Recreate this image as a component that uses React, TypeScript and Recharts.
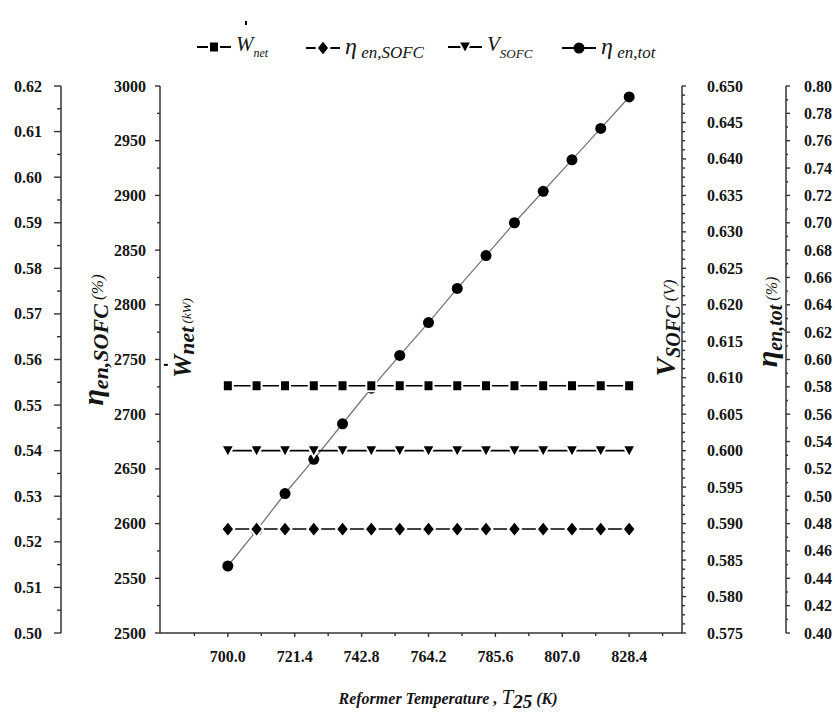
import React from "react";
import { LineChart, Line, XAxis, YAxis } from "recharts";

// reformer temperature T25 (K), 15 operating points
const temps = [700.0, 709.2, 718.3, 727.5, 736.7, 745.9, 755.0, 764.2, 773.4, 782.6, 791.7, 800.9, 810.1, 819.3, 828.4];
const wNet = [2726, 2726, 2726, 2726, 2726, 2726, 2726, 2726, 2726, 2726, 2726, 2726, 2726, 2726, 2726];
const etaSofc = [0.5228, 0.5228, 0.5228, 0.5228, 0.5228, 0.5228, 0.5228, 0.5228, 0.5228, 0.5228, 0.5228, 0.5228, 0.5228, 0.5228, 0.5228];
const vSofc = [0.6, 0.6, 0.6, 0.6, 0.6, 0.6, 0.6, 0.6, 0.6, 0.6, 0.6, 0.6, 0.6, 0.6, 0.6];
const etaTot = [0.449, 0.475, 0.502, 0.527, 0.553, 0.579, 0.603, 0.627, 0.652, 0.676, 0.7, 0.723, 0.746, 0.769, 0.792];

// tick labels
const xTicks = [700.0, 721.4, 742.8, 764.2, 785.6, 807.0, 828.4];
const sofcTicks = [0.5, 0.51, 0.52, 0.53, 0.54, 0.55, 0.56, 0.57, 0.58, 0.59, 0.6, 0.61, 0.62];
const wNetTicks = [2500, 2550, 2600, 2650, 2700, 2750, 2800, 2850, 2900, 2950, 3000];
const vTicks = [0.575, 0.58, 0.585, 0.59, 0.595, 0.6, 0.605, 0.61, 0.615, 0.62, 0.625, 0.63, 0.635, 0.64, 0.645, 0.65];
const totTicks = [0.4, 0.42, 0.44, 0.46, 0.48, 0.5, 0.52, 0.54, 0.56, 0.58, 0.6, 0.62, 0.64, 0.66, 0.68, 0.7, 0.72, 0.74, 0.76, 0.78, 0.8];

const data = temps.map((t, i) => ({
  t,
  wnet: wNet[i],
  sofc: etaSofc[i],
  v: vSofc[i],
  tot: etaTot[i],
}));

const SERIF = "'Liberation Serif', 'Times New Roman', serif";
const INK = "#151515";
const AXIS = "#333";

// axis ids: recharts stacks same-side axes by id, first id next to the plot
const ID_WNET = "L1";
const ID_SOFC = "L2";
const ID_V = "R1";
const ID_TOT = "R2";

// majors plus `n` evenly spaced minor ticks between each pair
function withMinors(majors: number[], n: number, extraEnds = false) {
  const out: number[] = [];
  const step = majors[1] - majors[0];
  if (extraEnds) for (let k = 1; k <= n; k++) out.push(majors[0] - (step * k) / (n + 1));
  majors.forEach((m, i) => {
    out.push(m);
    const next = i < majors.length - 1 ? majors[i + 1] : extraEnds ? m + step : null;
    if (next == null) return;
    for (let k = 1; k <= n; k++) out.push(m + ((next - m) * k) / (n + 1));
  });
  return out;
}

type TickSpec = {
  side: "left" | "right" | "bottom";
  majors: number[];
  digits: number;
  majorLen: number;
  minorLen: number;
  gap: number;
};

function makeTick(spec: TickSpec) {
  return (props: any) => {
    const { x, y, payload } = props;
    const v = payload.value;
    const isMajor = spec.majors.some((m) => Math.abs(m - v) < 1e-6);
    const len = isMajor ? spec.majorLen : spec.minorLen;
    const label = v.toFixed(spec.digits);
    const txt = { fontFamily: SERIF, fontWeight: 700, fontSize: 16, fill: INK } as const;
    if (spec.side === "left") {
      return (
        <g>
          <line x1={x} x2={x - len} y1={y} y2={y} stroke={AXIS} strokeWidth={1.4} />
          {isMajor && (
            <text x={x - spec.majorLen - spec.gap} y={y + 5.5} textAnchor="end" {...txt}>
              {label}
            </text>
          )}
        </g>
      );
    }
    if (spec.side === "right") {
      return (
        <g>
          <line x1={x} x2={x + len} y1={y} y2={y} stroke={AXIS} strokeWidth={1.4} />
          {isMajor && (
            <text x={x + spec.majorLen + spec.gap} y={y + 5.5} textAnchor="start" {...txt}>
              {label}
            </text>
          )}
        </g>
      );
    }
    return (
      <g>
        <line x1={x} x2={x} y1={y} y2={y + len} stroke={AXIS} strokeWidth={1.4} />
        {isMajor && (
          <text x={x} y={y + 29} textAnchor="middle" {...txt}>
            {label}
          </text>
        )}
      </g>
    );
  };
}

const SquareDot = (p: any) => (
  <rect x={p.cx - 5} y={p.cy - 5.5} width={10} height={11} fill="#000" stroke="#fff" strokeWidth={2} />
);
const DiamondDot = (p: any) => (
  <path
    d={`M${p.cx},${p.cy - 8} L${p.cx + 6.5},${p.cy} L${p.cx},${p.cy + 8} L${p.cx - 6.5},${p.cy} Z`}
    fill="#000"
    stroke="#fff"
    strokeWidth={2}
  />
);
const TriangleDot = (p: any) => (
  <path
    d={`M${p.cx - 6.5},${p.cy - 5.5} L${p.cx + 6.5},${p.cy - 5.5} L${p.cx},${p.cy + 6.5} Z`}
    fill="#000"
    stroke="#fff"
    strokeWidth={2}
  />
);
const CircleDot = (p: any) => <circle cx={p.cx} cy={p.cy} r={5.5} fill="#000" />;

function LegendMark({ kind }: { kind: string }) {
  const c = { cx: 18, cy: 9 };
  return (
    <svg width={36} height={18} style={{ display: "block" }}>
      <line x1={1} x2={35} y1={9} y2={9} stroke="#000" strokeWidth={1.8} />
      {kind === "sq" && <SquareDot {...c} />}
      {kind === "dia" && <DiamondDot {...c} />}
      {kind === "tri" && <TriangleDot {...c} />}
      {kind === "tot" && <CircleDot {...c} />}
    </svg>
  );
}

function LegendItem({ left, kind, children }: { left: number; kind: string; children: React.ReactNode }) {
  return (
    <div style={{ position: "absolute", left, top: 34, display: "flex", alignItems: "center", gap: 4 }}>
      <LegendMark kind={kind} />
      <div style={{ fontFamily: SERIF, fontStyle: "italic", color: INK, whiteSpace: "nowrap", lineHeight: 1 }}>
        {children}
      </div>
    </div>
  );
}

function VTitle({ cx, cy, children }: { cx: number; cy: number; children: React.ReactNode }) {
  return (
    <div
      style={{
        position: "absolute",
        left: cx,
        top: cy,
        transform: "translate(-50%,-50%) rotate(-90deg)",
        whiteSpace: "nowrap",
        fontFamily: SERIF,
        fontStyle: "italic",
        fontWeight: 700,
        color: INK,
        lineHeight: 1,
      }}
    >
      {children}
    </div>
  );
}

const sub = (size: number, shift = "-0.25em"): React.CSSProperties => ({ fontSize: size, verticalAlign: shift });

// W with the time-derivative dot above it
function DotW({ size, lift }: { size: number; lift: number }) {
  return (
    <span style={{ position: "relative", fontSize: size }}>
      W
      <span
        style={{
          position: "absolute",
          left: "50%",
          top: -lift,
          width: 2.5,
          height: 3.5,
          background: "#000",
        }}
      />
    </span>
  );
}

export default function App() {
  return (
    <div style={{ position: "absolute", left: 0, top: 0, width: 835, height: 714, background: "#fff" }}>
      <LineChart width={835} height={714} data={data} margin={{ top: 86, right: 0, bottom: 41, left: 0 }}>
        <XAxis
          dataKey="t"
          type="number"
          domain={[678.3, 845.3]}
          ticks={withMinors(xTicks, 1, true)}
          interval={0}
          height={40}
          tickSize={0}
          tickMargin={0}
          tickLine={false}
          axisLine={{ stroke: AXIS, strokeWidth: 1.5 }}
          tick={makeTick({ side: "bottom", majors: xTicks, digits: 1, majorLen: 4, minorLen: 3, gap: 0 })}
        />
        <YAxis
          yAxisId={ID_WNET}
          orientation="left"
          width={99}
          domain={[2500, 3000]}
          ticks={withMinors(wNetTicks, 1)}
          interval={0}
          tickSize={0}
          tickMargin={0}
          tickLine={false}
          axisLine={{ stroke: AXIS, strokeWidth: 1.5 }}
          tick={makeTick({ side: "left", majors: wNetTicks, digits: 0, majorLen: 5, minorLen: 3, gap: 9 })}
        />
        <YAxis
          yAxisId={ID_SOFC}
          orientation="left"
          width={61}
          domain={[0.5, 0.62]}
          ticks={withMinors(sofcTicks, 1)}
          interval={0}
          tickSize={0}
          tickMargin={0}
          tickLine={false}
          axisLine={{ stroke: AXIS, strokeWidth: 1.5 }}
          tick={makeTick({ side: "left", majors: sofcTicks, digits: 2, majorLen: 7, minorLen: 4, gap: 12 })}
        />
        <YAxis
          yAxisId={ID_V}
          orientation="right"
          width={104}
          domain={[0.575, 0.65]}
          ticks={withMinors(vTicks, 3)}
          interval={0}
          tickSize={0}
          tickMargin={0}
          tickLine={false}
          axisLine={{ stroke: AXIS, strokeWidth: 1.5 }}
          tick={makeTick({ side: "right", majors: vTicks, digits: 3, majorLen: 4, minorLen: 3, gap: 21 })}
        />
        <YAxis
          yAxisId={ID_TOT}
          orientation="right"
          width={49}
          domain={[0.4, 0.8]}
          ticks={withMinors(totTicks, 1)}
          interval={0}
          tickSize={0}
          tickMargin={0}
          tickLine={false}
          axisLine={{ stroke: AXIS, strokeWidth: 1.5 }}
          tick={makeTick({ side: "right", majors: totTicks, digits: 2, majorLen: 4, minorLen: 2, gap: 14 })}
        />
        <Line yAxisId={ID_TOT} dataKey="tot" stroke="#777" strokeWidth={1.3} dot={<CircleDot />} isAnimationActive={false} />
        <Line yAxisId={ID_WNET} dataKey="wnet" stroke="#000" strokeWidth={1.6} dot={<SquareDot />} isAnimationActive={false} />
        <Line yAxisId={ID_V} dataKey="v" stroke="#000" strokeWidth={1.6} dot={<TriangleDot />} isAnimationActive={false} />
        <Line yAxisId={ID_SOFC} dataKey="sofc" stroke="#000" strokeWidth={1.6} dot={<DiamondDot />} isAnimationActive={false} />
      </LineChart>

      {/* legend */}
      <LegendItem left={196} kind="sq">
        <DotW size={21} lift={11} />
        <span style={sub(12, "-0.5em")}>net</span>
      </LegendItem>
      <LegendItem left={305} kind="dia">
        <span style={{ fontSize: 24 }}>η</span>
        <span style={sub(17)}> en,SOFC</span>
      </LegendItem>
      <LegendItem left={447} kind="tri">
        <span style={{ fontSize: 21 }}>V</span>
        <span style={sub(13, "-0.5em")}>SOFC</span>
      </LegendItem>
      <LegendItem left={561} kind="tot">
        <span style={{ fontSize: 24 }}>η</span>
        <span style={sub(17)}> en,tot</span>
      </LegendItem>

      {/* axis titles */}
      <VTitle cx={95} cy={340}>
        <span style={{ fontSize: 30 }}>η</span>
        <span style={sub(22)}>en,SOFC</span>
        <span style={{ fontSize: 17, fontWeight: 400 }}> (%)</span>
      </VTitle>
      <VTitle cx={184} cy={338}>
        <DotW size={26} lift={4} />
        <span style={sub(22, "-0.15em")}>net</span>
        <span style={{ fontSize: 13, fontWeight: 400 }}> (kW)</span>
      </VTitle>
      <VTitle cx={667} cy={328}>
        <span style={{ fontSize: 28 }}>V</span>
        <span style={sub(20)}>SOFC</span>
        <span style={{ fontSize: 17, fontWeight: 400 }}> (V)</span>
      </VTitle>
      <VTitle cx={768} cy={322}>
        <span style={{ fontSize: 30 }}>η</span>
        <span style={sub(20)}>en,tot</span>
        <span style={{ fontSize: 16, fontWeight: 400 }}> (%)</span>
      </VTitle>

      <div
        style={{
          position: "absolute",
          left: 448,
          top: 687,
          transform: "translateX(-50%)",
          whiteSpace: "nowrap",
          fontFamily: SERIF,
          fontStyle: "italic",
          fontWeight: 700,
          fontSize: 16,
          color: INK,
          lineHeight: 1,
        }}
      >
        Reformer Temperature , <span style={{ fontSize: 21, fontWeight: 400 }}>T</span>
        <span style={sub(19, "-0.2em")}>25</span> (K)
      </div>
    </div>
  );
}
